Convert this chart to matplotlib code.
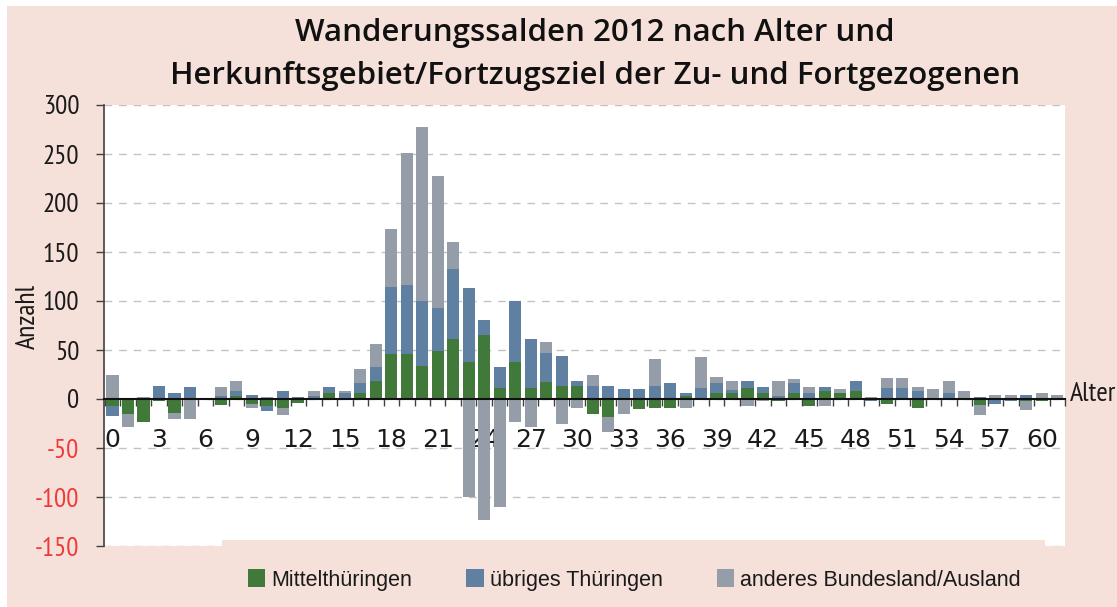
import numpy as np
import matplotlib
matplotlib.use("Agg")
import matplotlib.pyplot as plt
from matplotlib.patches import Rectangle, Patch

plt.rcParams['axes.unicode_minus'] = False

# ---------------- data ----------------
ages = list(range(0, 62))
mittel = [-7.5, -15.7, -23, -1.7, -14, 0, 0, -6.5, 3.4, -5.5,
          -7.5, -9.5, -4.4, 0, 6.5, 1.4, 6.5, 18, 46, 46,
          34, 49, 61, 38, 65, 11.5, 38, 11.5, 17, 13.5,
          13.5, -15, -18.4, 0, -10.2, -9.2, -9.2, 3.1, 1, 6.1,
          6.1, 11.3, 6.1, -2, 6.1, -7.2, 8.2, 6.1, 8.2, 0,
          -5.1, 0, -9.2, 0, 0, 0, -6.1, 0, 0, -2,
          -2, 0]
uebrig = [-9.5, 0, 0, 13.6, 6.5, 12.6, 0, 3.4, 5.1, 4.4,
          -5.1, 8.5, 2.4, 3.4, 6.1, 5.1, 10, 15, 68, 70,
          65.5, 44, 71.5, 75, 16, 21.5, 62, 50, 30, 30,
          5, 13.5, 13.3, 10.2, 10.2, 13.3, 16.4, 3, 10.3, 10.3,
          3.1, 7.1, 6.2, 3.1, 10.3, 6.1, 4.1, 0, 10.2, -2,
          11.3, 11.3, 8.2, 1, 6.1, 0, 2, -5.1, -2, 4.1,
          0, 0]
anderes = [25, -13.3, 2.4, 0, -6.8, -20.8, -1, 9.2, 10.3, -4,
           2.4, -7.2, 0, 5.1, 0, 2, 14.5, 23, 59, 135,
           178, 135, 27.5, -100, -123, -110, -23, -29, 11, -26,
           -9, 11.5, -15.4, -15.3, 0, 27.6, 0, -9.2, 31.7, 6.1,
           9.2, -7.2, -2, 15.3, 4.1, 6.2, -7.2, 4.1, 0, 2,
           10.2, 10.2, 4.1, 9.2, 12.3, 8.2, -10.3, 4.1, 4.1, -9.2,
           6.1, 4.1]
series_names = ["Mittelthüringen", "übriges Thüringen", "anderes Bundesland/Ausland"]
yticks = [-150, -100, -50, 0, 50, 100, 150, 200, 250, 300]
xtick_ages = list(range(0, 61, 3))

# ---------------- style ----------------
W, H = 1117, 607
PEACH = "#F5E1DA"
colors = ["#41793B", "#5F80A1", "#959EA8"]
NARROW = ["PT Sans Narrow", "DejaVu Sans"]
TITLE_FONT = ["Open Sans", "DejaVu Sans"]

fig = plt.figure(figsize=(W / 100, H / 100), dpi=100, facecolor="white")
fig.patches.append(Rectangle((7 / W, 0), 1, (H - 6) / H, transform=fig.transFigure,
                             facecolor=PEACH, edgecolor="none", zorder=-10))

ax = fig.add_axes([104 / W, 1 - 546 / H, (1065 - 104) / W, (546 - 105) / H])
ax.set_facecolor("white")

x = np.array(ages)
pos_bottom = np.zeros(len(ages))
neg_bottom = np.zeros(len(ages))
for vals, col, name in zip([mittel, uebrig, anderes], colors, series_names):
    v = np.array(vals, dtype=float)
    bottom = np.where(v >= 0, pos_bottom, neg_bottom)
    ax.bar(x, v, width=0.78, bottom=bottom, color=col, label=name, zorder=2)
    pos_bottom += np.where(v >= 0, v, 0)
    neg_bottom += np.where(v < 0, v, 0)

ax.set_xlim(-0.55, 61.5)
ax.set_ylim(-150, 300)
ax.set_axisbelow(True)

ax.set_yticks(yticks)
ax.set_yticklabels([str(v) for v in yticks], fontfamily=NARROW)
ax.yaxis.grid(True, color="#C3C3C3", linewidth=1.0, dashes=(5.5, 5))
ax.tick_params(axis="y", direction="out", length=5.8, width=1, color="#404040",
               pad=12, labelsize=19.5, labelcolor="#1a1a1a")
for lab, v in zip(ax.get_yticklabels(), yticks):
    if v < 0:
        lab.set_color("#F03A3A")

ax.set_xticks(xtick_ages)
ax.set_xticklabels([str(a) for a in xtick_ages], fontfamily=NARROW)
ax.set_xticks(np.arange(-0.5, 62, 1.0), minor=True)
ax.tick_params(axis="x", which="major", length=0, pad=21, labelsize=18, labelcolor="#1a1a1a")
ax.tick_params(axis="x", which="minor", direction="out", length=4.8, width=1, color="#404040")

for s in ["top", "right"]:
    ax.spines[s].set_visible(False)
ax.spines["bottom"].set_position(("data", 0))
ax.spines["bottom"].set_color("#111111")
ax.spines["bottom"].set_linewidth(1.5)
ax.spines["bottom"].set_zorder(3)
ax.spines["left"].set_color("#404040")
ax.spines["left"].set_linewidth(1.2)

ax.set_ylabel("Anzahl", fontsize=20, fontfamily=NARROW, color="#1a1a1a", va="center")
ax.yaxis.set_label_coords((27.5 - 104) / (1065 - 104), (546 - 316.5) / (546 - 105))
ax.set_xlabel("Alter", fontsize=20, fontfamily=NARROW, color="#1a1a1a", ha="left", va="center")
ax.xaxis.set_label_coords((1070 - 104) / (1065 - 104), (546 - 394) / (546 - 105))

# title
title_kw = dict(ha="center", va="center", fontsize=22.5, fontfamily=TITLE_FONT,
                fontweight="semibold", color="#111111")
fig.text(595 / W, 1 - 33 / H, "Wanderungssalden 2012 nach Alter und", **title_kw)
fig.text(595 / W, 1 - 76 / H, "Herkunftsgebiet/Fortzugsziel der Zu- und Fortgezogenen", **title_kw)

# legend area (peach box overlapping plot bottom)
fig.patches.append(Rectangle((222 / W, 0), (1045 - 222) / W, (H - 540) / H,
                             transform=fig.transFigure, facecolor=PEACH,
                             edgecolor="none", zorder=1))
handles = [Patch(facecolor=c, edgecolor="none") for c in colors]
leg = fig.legend(handles, series_names, ncol=3, loc="center",
                 bbox_to_anchor=(634.5 / W, 1 - 580 / H), frameon=False,
                 prop={"family": ["Liberation Sans", "DejaVu Sans"], "size": 15.5},
                 handlelength=0.8, handleheight=0.85, handletextpad=0.3,
                 columnspacing=2.5, borderpad=0)
leg.set_zorder(5)
for t in leg.get_texts():
    t.set_color("#1a1a1a")

fig.savefig("out.png", dpi=100, facecolor=fig.get_facecolor())
